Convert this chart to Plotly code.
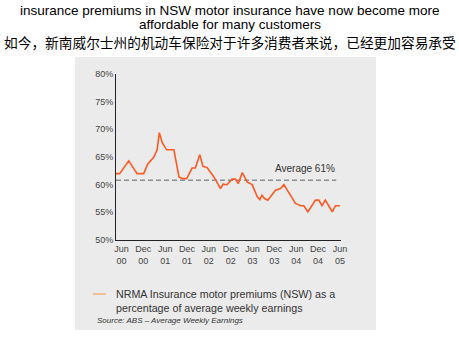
import plotly.graph_objects as go

# months since June 2000, and premium as % of average weekly earnings
months = [-1.5, -0.5, 2.0, 4.3, 6.1, 7.2, 8.9, 9.8, 10.4, 11.2, 12.4, 14.4, 15.8, 16.7, 17.9,
          19.4, 20.3, 21.5, 22.4, 23.5, 25.4, 27.2, 27.9, 29.0, 30.4, 31.3, 32.1, 33.2, 34.5,
          35.9, 37.3, 38.0, 38.6, 39.3, 40.2, 40.9, 42.3, 43.7, 44.6, 46.4, 47.8, 49.2, 50.1,
          51.2, 52.4, 53.3, 54.2, 55.1, 56.0, 57.9, 58.8, 60.0]
premium = [62.0, 62.0, 64.3, 62.0, 62.0, 63.7, 65.0, 66.3, 69.4, 67.6, 66.3, 66.3, 61.4, 61.1, 61.1,
           63.0, 63.0, 65.4, 63.3, 63.1, 61.4, 59.3, 60.1, 60.0, 61.0, 61.0, 60.2, 62.2, 60.5,
           60.0, 57.8, 57.3, 58.1, 57.5, 57.2, 57.8, 59.0, 59.3, 60.0, 58.1, 56.6, 56.2, 56.2,
           55.1, 56.2, 57.2, 57.2, 56.2, 57.2, 55.1, 56.2, 56.2]

tick_months = [0, 6, 12, 18, 24, 30, 36, 42, 48, 54, 60]
tick_labels = ["Jun<br>00", "Dec<br>00", "Jun<br>01", "Dec<br>01", "Jun<br>02", "Dec<br>02",
               "Jun<br>03", "Dec<br>03", "Jun<br>04", "Dec<br>04", "Jun<br>05"]
y_ticks = [50, 55, 60, 65, 70, 75, 80]
y_labels = ["50%", "55%", "60%", "65%", "70%", "75%", "80%"]

average_value = 60.8
average_label = "Average 61%"
series_name = "NRMA Insurance motor premiums (NSW) as a<br>percentage of average weekly earnings"
source_text = "Source: ABS – Average Weekly Earnings"
title_lines = ["insurance premiums in NSW motor insurance have now become more",
               "affordable for many customers",
               "如今，新南威尔士州的机动车保险对于许多消费者来说，已经更加容易承受"]

W, H = 459, 338
L, R, T, B = 116, 118, 74, 98
pw, ph = W - L - R, H - T - B

def px(xp):
    return (xp - L) / pw

def py(yp):
    return (H - B - yp) / ph

fig = go.Figure()
fig.add_trace(go.Scatter(x=months, y=premium, mode="lines",
                         line=dict(color="#ff5a24", width=1.6),
                         name=series_name, showlegend=False))

shapes = [
    dict(type="rect", xref="paper", yref="paper", x0=px(75), x1=px(376), y0=py(330), y1=py(57),
         fillcolor="#ebebeb", line=dict(width=0), layer="below"),
    dict(type="line", xref="x", yref="y", x0=-1.5, x1=59.0, y0=average_value, y1=average_value,
         line=dict(color="#8c9196", width=1.6, dash="5px,3px"), layer="below"),
    dict(type="line", xref="paper", yref="paper", x0=px(93), x1=px(106), y0=py(294), y1=py(294),
         line=dict(color="#f5a25a", width=1.2)),
]

annotations = [
    dict(x=59.3, y=63.0, xref="x", yref="y", text=average_label, showarrow=False,
         xanchor="right", yanchor="middle", font=dict(size=10, color="#333", family="Liberation Sans")),
    dict(x=px(114), y=py(301), xref="paper", yref="paper", text=series_name, showarrow=False,
         xanchor="left", yanchor="middle", align="left",
         font=dict(size=10.7, color="#333", family="Liberation Sans")),
    dict(x=px(95), y=py(320), xref="paper", yref="paper", text="<i>" + source_text + "</i>",
         showarrow=False, xanchor="left", yanchor="middle",
         font=dict(size=8, color="#333", family="Liberation Sans")),
    dict(x=px(229.5), y=py(10), xref="paper", yref="paper", text=title_lines[0], showarrow=False,
         xanchor="center", yanchor="middle", font=dict(size=13.5, color="#000", family="Liberation Sans")),
    dict(x=px(229.5), y=py(24), xref="paper", yref="paper", text=title_lines[1], showarrow=False,
         xanchor="center", yanchor="middle", font=dict(size=13.5, color="#000", family="Liberation Sans")),
    dict(x=px(229.5), y=py(42), xref="paper", yref="paper", text=title_lines[2], showarrow=False,
         xanchor="center", yanchor="middle", font=dict(size=13.7, color="#000", family="Noto Sans CJK SC")),
]

fig.update_layout(
    width=W, height=H,
    margin=dict(l=L, r=R, t=T, b=B, pad=0),
    paper_bgcolor="white", plot_bgcolor="rgba(0,0,0,0)",
    shapes=shapes, annotations=annotations, showlegend=False,
    xaxis=dict(range=[-1.5, 60.3], tickmode="array", tickvals=tick_months, ticktext=tick_labels,
               showgrid=False, zeroline=False, showline=True, linecolor="#222", linewidth=1,
               ticks="", tickfont=dict(size=9, color="#444", family="Liberation Sans")),
    yaxis=dict(range=[50, 80], tickmode="array", tickvals=y_ticks, ticktext=y_labels,
               showgrid=False, zeroline=False, showline=True, linecolor="#222", linewidth=1,
               ticks="", tickfont=dict(size=9, color="#444", family="Liberation Sans")),
)

fig.write_html("out.html")
